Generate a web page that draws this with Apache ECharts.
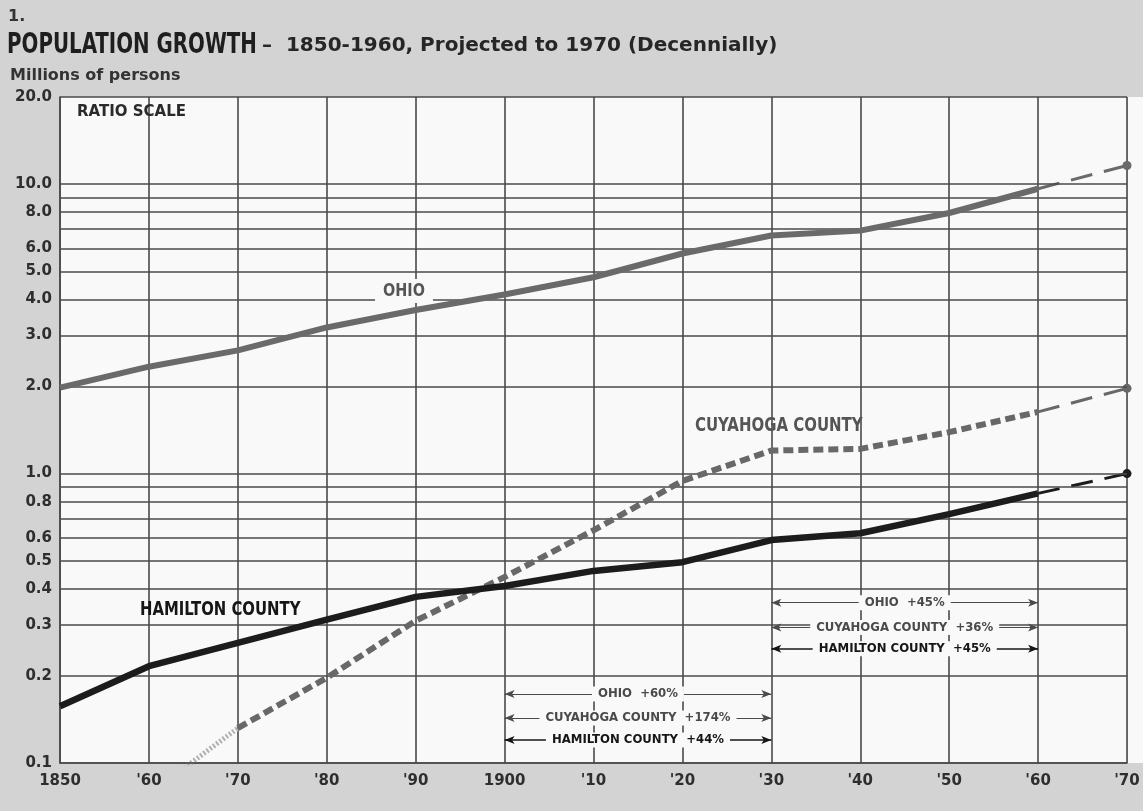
<!DOCTYPE html>
<html>
<head>
<meta charset="utf-8">
<title>Population Growth 1850-1970</title>
<script src="https://cdn.jsdelivr.net/npm/echarts@6/dist/echarts.min.js"></script>
<style>
  html, body { margin: 0; padding: 0; background: #d3d3d3; }
  #chart { width: 1143px; height: 811px; }
</style>
</head>
<body>
<div id="chart"></div>
<script>
// Census years and population, millions of persons
const decades = [1850, 1860, 1870, 1880, 1890, 1900, 1910, 1920, 1930, 1940, 1950, 1960];
const ohio     = [1.980, 2.340, 2.665, 3.198, 3.672, 4.158, 4.767, 5.759, 6.647, 6.908, 7.947, 9.640];
const cuyahoga = [0.048, 0.078, 0.132, 0.197, 0.310, 0.439, 0.637, 0.943, 1.201, 1.217, 1.390, 1.633];
const hamilton = [0.157, 0.216, 0.260, 0.313, 0.375, 0.409, 0.461, 0.494, 0.589, 0.622, 0.724, 0.854];

// Projection to 1970
const projectionYears = [1960, 1970];
const ohioProjected     = [9.640, 11.6];
const cuyahogaProjected = [1.633, 1.97];
const hamiltonProjected = [0.854, 1.00];

// Ratio-scale rulings and the ones that carry a label
const rulingValues = [0.1, 0.2, 0.3, 0.4, 0.5, 0.6, 0.7, 0.8, 0.9, 1, 2, 3, 4, 5, 6, 7, 8, 9, 10, 20];
const unlabeledRulings = [0.7, 0.9, 7, 9];

// Year tick labels
const yearLabels = ["1850", "'60", "'70", "'80", "'90", "1900", "'10", "'20", "'30", "'40", "'50", "'60", "'70"];

// Periods compared in the percentage-change notes
const periodA = [1900, 1930];
const periodB = [1930, 1960];

const GRID_COLOR = '#4a4a4a';
const PLOT_BG = '#f9f9f9';
const OHIO_COLOR = '#6a6a6a';
const CUY_COLOR = '#686868';
const HAM_COLOR = '#1c1c1c';
const LABEL_FONT = '"DejaVu Sans", sans-serif';
const COND_FONT = '"DejaVu Sans Condensed", sans-serif';

function pairs(xs, ys) { return xs.map((x, i) => [x, ys[i]]); }
function idx(year) { return decades.indexOf(year); }
function pct(series, period) {
  const a = series[idx(period[0])], b = series[idx(period[1])];
  return '+' + Math.round((b / a - 1) * 100) + '%';
}

// Projection segment: thin long dashes ending in a dot at 1970
function projection(name, values, color) {
  const d = pairs(projectionYears, values);
  return {
    name: name, type: 'line', z: 4, silent: true,
    data: [
      { value: d[0], symbol: 'none' },
      { value: d[1], symbol: 'circle', symbolSize: 9 }
    ],
    showSymbol: true,
    itemStyle: { color: color },
    lineStyle: { color: color, width: 3, type: [22, 12] }
  };
}

// Double-headed arrow between two decade rulings with centred caption
function arrowNote(period, level, text, color, width) {
  return [
    {
      coord: [period[0], level],
      lineStyle: { color: color, width: width, type: 'solid' },
      label: {
        show: true, position: 'insideMiddle', formatter: text,
        color: color, fontFamily: COND_FONT, fontSize: 13, fontWeight: 'bold',
        backgroundColor: PLOT_BG, padding: [1, 6]
      }
    },
    { coord: [period[1], level] }
  ];
}

// Tall condensed caption drawn as graphic text
function caption(text, x, y, size, sx, color, extra) {
  return Object.assign({
    type: 'text', x: x, y: y, z: 10, scaleX: sx, scaleY: 1, silent: true,
    style: Object.assign({ text: text, font: 'bold ' + size + 'px ' + COND_FONT, fill: color, verticalAlign: 'middle' }, extra || {})
  });
}

const chart = echarts.init(document.getElementById('chart'), null, { renderer: 'canvas' });

const option = {
  backgroundColor: '#d3d3d3',
  animation: false,
  grid: {
    left: 60, top: 97, right: 16, bottom: 48,
    show: true, backgroundColor: PLOT_BG, borderWidth: 0
  },
  xAxis: {
    type: 'value', min: 1850, max: 1970, interval: 10,
    axisLine: { show: true, lineStyle: { color: GRID_COLOR, width: 1.6 } },
    axisTick: { show: false },
    splitLine: { show: true, lineStyle: { color: GRID_COLOR, width: 1.6 } },
    axisLabel: {
      margin: 11, color: '#2e2e2e', fontFamily: LABEL_FONT, fontSize: 15, fontWeight: 'bold',
      formatter: v => yearLabels[Math.round((v - 1850) / 10)] || ''
    }
  },
  yAxis: {
    type: 'log', logBase: 10, min: 0.1, max: 20,
    axisLine: { show: true, lineStyle: { color: GRID_COLOR, width: 1.6 } },
    axisTick: { show: false },
    axisLabel: { show: false },
    splitLine: { show: false }
  },
  series: [
    // Horizontal rulings of the ratio scale with their value labels
    {
      name: 'rulings', type: 'line', data: [], z: 1, silent: true,
      markLine: {
        silent: true, symbol: 'none', animation: false,
        lineStyle: { color: GRID_COLOR, width: 1.6, type: 'solid' },
        label: {
          position: 'start', distance: 8, color: '#2e2e2e',
          fontFamily: LABEL_FONT, fontSize: 15, fontWeight: 'bold',
          formatter: p => Number(p.value).toFixed(1)
        },
        emphasis: { disabled: true },
        data: rulingValues.map(v => ({ yAxis: v, label: { show: !unlabeledRulings.includes(v) } }))
      }
    },
    // Ohio
    {
      name: 'Ohio', type: 'line', z: 5, silent: true, showSymbol: false, symbol: 'none',
      data: pairs(decades, ohio),
      lineStyle: { color: OHIO_COLOR, width: 6, join: 'round' }
    },
    projection('Ohio projected', ohioProjected, OHIO_COLOR),
    // Cuyahoga County: early faint stretch, then heavy dashes
    {
      name: 'Cuyahoga early', type: 'line', z: 4, silent: true, showSymbol: false, symbol: 'none',
      data: pairs(decades.slice(0, 3), cuyahoga.slice(0, 3)),
      lineStyle: { color: '#b0b0b0', width: 5, type: [2, 2] }
    },
    {
      name: 'Cuyahoga County', type: 'line', z: 5, silent: true, showSymbol: false, symbol: 'none',
      data: pairs(decades.slice(2), cuyahoga.slice(2)),
      lineStyle: { color: CUY_COLOR, width: 6, type: [10, 5] }
    },
    projection('Cuyahoga projected', cuyahogaProjected, CUY_COLOR),
    // Hamilton County
    {
      name: 'Hamilton County', type: 'line', z: 6, silent: true, showSymbol: false, symbol: 'none',
      data: pairs(decades, hamilton),
      lineStyle: { color: HAM_COLOR, width: 6.5, join: 'round' }
    },
    projection('Hamilton projected', hamiltonProjected, HAM_COLOR),
    // Percentage change notes
    {
      name: 'notes', type: 'line', data: [], z: 7, silent: true,
      markLine: {
        silent: true, animation: false,
        symbol: ['arrow', 'arrow'], symbolSize: [6, 10],
        emphasis: { disabled: true },
        data: [
          arrowNote(periodB, 0.358, 'OHIO  ' + pct(ohio, periodB), '#4a4a4a', 1.2),
          arrowNote(periodB, 0.294, 'CUYAHOGA COUNTY  ' + pct(cuyahoga, periodB), '#4a4a4a', 1.2),
          arrowNote(periodB, 0.248, 'HAMILTON COUNTY  ' + pct(hamilton, periodB), '#161616', 1.7),
          arrowNote(periodA, 0.173, 'OHIO  ' + pct(ohio, periodA), '#4a4a4a', 1.2),
          arrowNote(periodA, 0.143, 'CUYAHOGA COUNTY  ' + pct(cuyahoga, periodA), '#4a4a4a', 1.2),
          arrowNote(periodA, 0.120, 'HAMILTON COUNTY  ' + pct(hamilton, periodA), '#161616', 1.7)
        ]
      }
    }
  ],
  graphic: [
    { type: 'rect', z: -1, silent: true, shape: { x: 1128, y: 97, width: 15, height: 666 }, style: { fill: PLOT_BG } },
    { type: 'text', x: 8, y: 17, silent: true, style: { text: '1.', font: 'bold 16px ' + LABEL_FONT, fill: '#333', verticalAlign: 'middle' } },
    caption('POPULATION GROWTH', 7, 45, 29, 0.76, '#1e1e1e'),
    { type: 'text', x: 262, y: 46, silent: true, style: { text: '–  1850-1960, Projected to 1970 (Decennially)', font: 'bold 20px ' + LABEL_FONT, fill: '#262626', verticalAlign: 'middle' } },
    { type: 'text', x: 10, y: 76, silent: true, style: { text: 'Millions of persons', font: 'bold 16px ' + LABEL_FONT, fill: '#333', verticalAlign: 'middle' } },
    { type: 'text', x: 77, y: 112, z: 10, silent: true, style: { text: 'RATIO SCALE', font: 'bold 15px ' + LABEL_FONT, fill: '#2a2a2a', verticalAlign: 'middle' } },
    caption('OHIO', 404, 291, 18, 0.89, '#555', { align: 'center', backgroundColor: PLOT_BG, padding: [3, 9] }),
    caption('CUYAHOGA COUNTY', 695, 426, 19, 0.875, '#555'),
    caption('HAMILTON COUNTY', 140, 610, 19, 0.87, '#161616')
  ]
};

chart.setOption(option);
</script>
</body>
</html>
